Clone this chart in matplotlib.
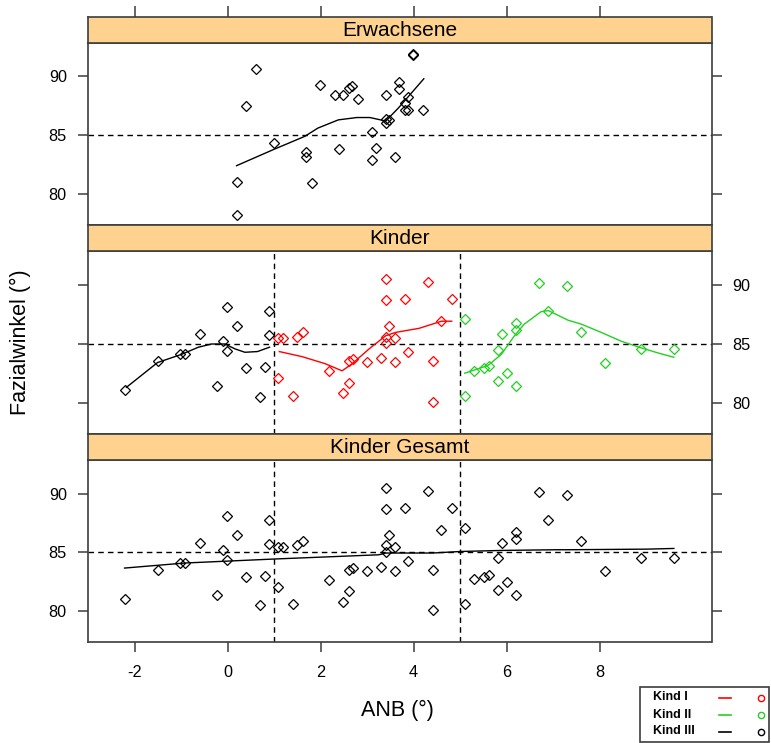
import matplotlib
matplotlib.use("Agg")
import matplotlib.pyplot as plt
from matplotlib.patches import Rectangle
from matplotlib.lines import Line2D

plt.rcParams["font.family"] = ["Liberation Sans", "DejaVu Sans"]
plt.rcParams["axes.unicode_minus"] = False

# Erwachsene (adults)
erw_anb = [0.19, 0.19, 0.40, 0.60, 0.99, 1.68, 1.68, 1.81, 1.99, 2.31, 2.48, 2.40, 2.60, 2.68, 2.81, 3.10,
           3.19, 3.10, 3.40, 3.40, 3.40, 3.48, 3.61, 3.69, 3.69, 3.81, 3.89, 3.81, 3.89, 3.99, 3.99, 4.20]
erw_fw = [78.2, 81.0, 87.5, 90.6, 84.3, 83.6, 83.15, 80.9, 89.3, 88.4, 88.4, 83.8, 89.0, 89.2, 88.1, 85.26,
          83.9, 82.9, 88.4, 86.4, 86.05, 86.3, 83.15, 89.5, 88.96, 87.7, 88.25, 87.1, 87.1, 91.9, 91.8, 87.1]
erw_smooth_x = [0.19, 1.0, 1.66, 1.94, 2.38, 2.78, 3.06, 3.40, 3.67, 3.89, 4.22]
erw_smooth_y = [82.4, 83.8, 84.9, 85.6, 86.3, 86.5, 86.5, 86.2, 87.3, 88.3, 89.8]

# Kinder, Kind III
k3_anb = [-2.22, -1.51, -1.02, -0.92, -0.60, -0.22, -0.11, -0.01, -0.01, 0.19, 0.40, 0.69, 0.81, 0.89, 0.89]
k3_fw = [81.05, 83.5, 84.1, 84.1, 85.84, 81.4, 85.2, 88.1, 84.35, 86.5, 82.9, 80.5, 83.0, 87.8, 85.7]
k3_smooth_x = [-2.18, -1.51, -0.99, -0.63, -0.35, -0.06, 0.16, 0.37, 0.64, 0.90]
k3_smooth_y = [81.3, 83.4, 84.1, 84.7, 84.97, 84.97, 84.55, 84.27, 84.33, 84.7]

# Kinder, Kind I
k1_anb = [1.09, 1.09, 1.19, 1.40, 1.48, 1.61, 2.19, 2.48, 2.60, 2.60, 2.69, 2.99, 3.30, 3.40, 3.40, 3.40,
          3.40, 3.48, 3.61, 3.61, 3.81, 3.89, 4.31, 4.41, 4.41, 4.60, 4.82]
k1_fw = [82.1, 85.5, 85.5, 80.6, 85.6, 86.0, 82.65, 80.8, 81.7, 83.5, 83.7, 83.45, 83.8, 90.5, 88.7, 85.6,
         85.03, 86.5, 85.5, 83.45, 88.8, 84.3, 90.2, 83.5, 80.1, 86.9, 88.8]
k1_smooth_x = [1.11, 1.60, 2.10, 2.46, 2.68, 3.04, 3.40, 3.61, 4.12, 4.60, 4.82]
k1_smooth_y = [84.33, 83.9, 83.3, 82.7, 83.3, 84.55, 85.67, 85.95, 86.3, 86.9, 86.9]

# Kinder, Kind II
k2_anb = [5.10, 5.10, 5.31, 5.51, 5.62, 5.82, 5.82, 5.90, 6.02, 6.20, 6.20, 6.20, 6.70, 6.90, 7.31, 7.61,
          8.11, 8.90, 9.60]
k2_fw = [87.1, 80.6, 82.7, 82.9, 83.1, 84.5, 81.8, 85.84, 82.5, 86.76, 86.15, 81.4, 90.15, 87.8, 89.85, 85.95,
         83.4, 84.55, 84.55]
k2_smooth_x = [5.10, 5.60, 5.89, 6.17, 6.38, 6.74, 6.90, 7.32, 7.61, 8.04, 8.47, 8.90, 9.27, 9.60]
k2_smooth_y = [82.5, 83.15, 84.1, 85.67, 86.65, 87.7, 87.8, 86.99, 86.65, 85.95, 85.2, 84.64, 84.2, 83.85]

# Kinder Gesamt smoother
all_smooth_x = [-2.22, -0.92, 1.0, 3.25, 3.40, 4.41, 5.0, 5.88, 7.07, 7.30, 9.01, 9.60]
all_smooth_y = [83.67, 84.1, 84.44, 84.8, 84.95, 84.95, 85.08, 85.17, 85.23, 85.23, 85.28, 85.34]

groups = ["Kind I", "Kind II", "Kind III"]
group_colors = ["#ff0000", "#22d022", "#000000"]
panel_titles = ["Erwachsene", "Kinder", "Kinder Gesamt"]
y_ticks = [80, 85, 90]
x_ticks = [-2, 0, 2, 4, 6, 8]
ref_y = 85
ref_x = [1, 5]

W, H = 771, 743
fig = plt.figure(figsize=(W / 100, H / 100), dpi=100)

def px_axes(x0, y0, x1, y1):
    return fig.add_axes([x0 / W, 1 - y1 / H, (x1 - x0) / W, (y1 - y0) / H])

left, right = 87.7, 711.5
xlim = (-3.013, 10.41)
ylim = (77.35, 92.87)
frame_col = "#3c3c3c"
strip_col = "#ffd28f"
# strip top, panel top, panel bottom (pixels)
rows = [(16.7, 42.7, 225.0), (225.0, 250.7, 434.0), (434.0, 460.0, 642.3)]

axes = []
for i, (s_top, p_top, p_bot) in enumerate(rows):
    ax = px_axes(left, p_top, right, p_bot)
    ax.set_xlim(xlim)
    ax.set_ylim(ylim)
    ax.set_yticks(y_ticks)
    ax.set_xticks(x_ticks)
    for sp in ax.spines.values():
        sp.set_color(frame_col)
        sp.set_linewidth(1.2)
    ax.tick_params(direction="out", length=7.5, width=1.1, color=frame_col, labelsize=11.7,
                   left=True, right=True, top=False, bottom=(i == 2),
                   labelleft=(i != 1), labelright=(i == 1), labelbottom=(i == 2), pad=7.5)
    ax.tick_params(axis="x", pad=9)
    ax.axhline(ref_y, color="black", lw=1, ls=(0, (4, 3)))
    axes.append(ax)

    st = px_axes(left, s_top, right, p_top)
    st.set_facecolor(strip_col)
    st.set_xlim(xlim)
    st.set_yticks([])
    st.set_xticks(x_ticks if i == 0 else [])
    st.tick_params(axis="x", direction="out", length=8, width=1.1, color=frame_col,
                   top=(i == 0), bottom=False, labelbottom=False, labeltop=False)
    for sp in st.spines.values():
        sp.set_color(frame_col)
        sp.set_linewidth(1.2)
    st.text(0.5, 0.47, panel_titles[i], transform=st.transAxes, ha="center", va="center", fontsize=15)

mk = dict(marker="D", ms=4.6, mfc="none", mew=0.9, ls="none")

# Erwachsene
ax = axes[0]
ax.plot(erw_anb, erw_fw, mec="black", **mk)
ax.plot(erw_smooth_x, erw_smooth_y, color="black", lw=1)

# Kinder by group
ax = axes[1]
for xv in ref_x:
    ax.axvline(xv, color="black", lw=1, ls=(0, (4, 3)))
for xs, ys, sx, sy, c in [(k1_anb, k1_fw, k1_smooth_x, k1_smooth_y, group_colors[0]),
                          (k2_anb, k2_fw, k2_smooth_x, k2_smooth_y, group_colors[1]),
                          (k3_anb, k3_fw, k3_smooth_x, k3_smooth_y, group_colors[2])]:
    ax.plot(xs, ys, mec=c, **mk)
    ax.plot(sx, sy, color=c, lw=1)

# Kinder Gesamt
ax = axes[2]
for xv in ref_x:
    ax.axvline(xv, color="black", lw=1, ls=(0, (4, 3)))
for xs, ys in [(k1_anb, k1_fw), (k2_anb, k2_fw), (k3_anb, k3_fw)]:
    ax.plot(xs, ys, mec="black", **mk)
ax.plot(all_smooth_x, all_smooth_y, color="black", lw=1)

fig.text(397.5 / W, 1 - 710 / H, "ANB (°)", ha="center", va="center", fontsize=15.5)
fig.text(20 / W, 1 - 342 / H, "Fazialwinkel (°)", ha="center", va="center", rotation=90, fontsize=15.5)

# legend box
fig.patches.append(Rectangle((640 / W, 1 - 742 / H), 129 / W, 55 / H, transform=fig.transFigure,
                             fill=False, edgecolor=frame_col, lw=1.2))
for j, (g, c) in enumerate(zip(groups, group_colors)):
    yy = 1 - (697.5 + 17 * j) / H
    fig.text(652.7 / W, yy, g, ha="left", va="center", fontsize=9, fontweight="bold")
    fig.lines.append(Line2D([719 / W, 731 / W], [yy, yy], transform=fig.transFigure, color=c, lw=1.2))
    fig.lines.append(Line2D([760.7 / W], [yy], transform=fig.transFigure, marker="o", ms=4.5,
                            mfc="none", mec=c, mew=1))

fig.savefig("out.png", dpi=100)
